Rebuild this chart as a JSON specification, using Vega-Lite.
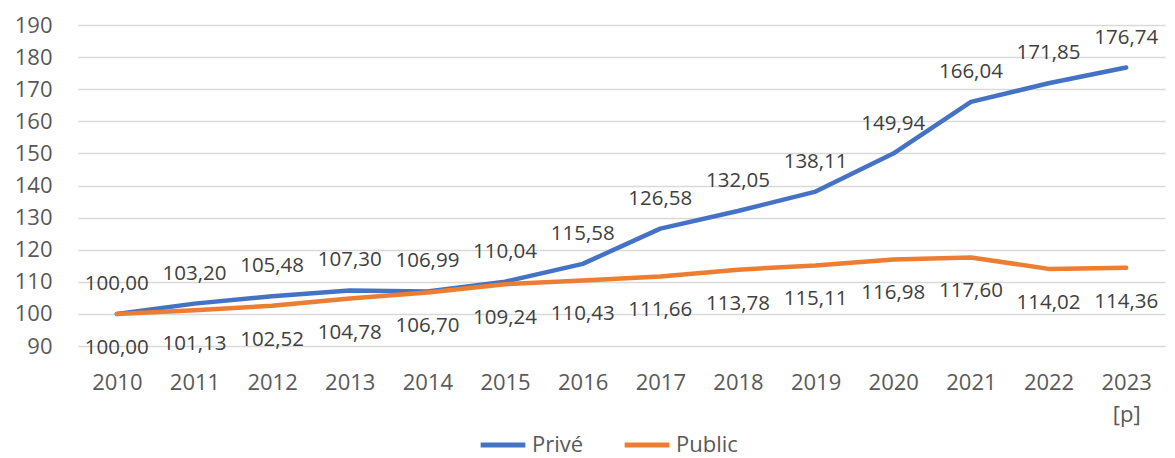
{
  "$schema": "https://vega.github.io/schema/vega-lite/v6.json",
  "width": 1087,
  "height": 321,
  "autosize": {"type": "none"},
  "padding": {"left": 78, "top": 25, "right": 10, "bottom": 112},
  "background": "white",
  "config": {
    "locale": {"number": {"decimal": ",", "thousands": " ", "grouping": [3], "currency": ["", " €"]}},
    "view": {"stroke": null},
    "font": "Open Sans"
  },
  "data": {
    "values": [
      {"year": "2010", "series": "Privé", "value": 100.00},
      {"year": "2011", "series": "Privé", "value": 103.20},
      {"year": "2012", "series": "Privé", "value": 105.48},
      {"year": "2013", "series": "Privé", "value": 107.30},
      {"year": "2014", "series": "Privé", "value": 106.99},
      {"year": "2015", "series": "Privé", "value": 110.04},
      {"year": "2016", "series": "Privé", "value": 115.58},
      {"year": "2017", "series": "Privé", "value": 126.58},
      {"year": "2018", "series": "Privé", "value": 132.05},
      {"year": "2019", "series": "Privé", "value": 138.11},
      {"year": "2020", "series": "Privé", "value": 149.94},
      {"year": "2021", "series": "Privé", "value": 166.04},
      {"year": "2022", "series": "Privé", "value": 171.85},
      {"year": "2023", "series": "Privé", "value": 176.74},
      {"year": "2010", "series": "Public", "value": 100.00},
      {"year": "2011", "series": "Public", "value": 101.13},
      {"year": "2012", "series": "Public", "value": 102.52},
      {"year": "2013", "series": "Public", "value": 104.78},
      {"year": "2014", "series": "Public", "value": 106.70},
      {"year": "2015", "series": "Public", "value": 109.24},
      {"year": "2016", "series": "Public", "value": 110.43},
      {"year": "2017", "series": "Public", "value": 111.66},
      {"year": "2018", "series": "Public", "value": 113.78},
      {"year": "2019", "series": "Public", "value": 115.11},
      {"year": "2020", "series": "Public", "value": 116.98},
      {"year": "2021", "series": "Public", "value": 117.60},
      {"year": "2022", "series": "Public", "value": 114.02},
      {"year": "2023", "series": "Public", "value": 114.36}
    ]
  },
  "encoding": {
    "x": {
      "field": "year", "type": "ordinal", "title": null,
      "scale": {"type": "point", "padding": 0.5},
      "axis": {
        "domain": true, "domainColor": "#d9d9d9", "ticks": false, "grid": false,
        "labelAngle": 0, "labelFontSize": 22, "labelColor": "#595959",
        "labelPadding": 26, "labelLineHeight": 32,
        "labelExpr": "datum.value == '2023' ? ['2023', '[p]'] : datum.value"
      }
    },
    "y": {
      "field": "value", "type": "quantitative", "title": null,
      "scale": {"domain": [90, 190], "nice": false, "zero": false},
      "axis": {
        "values": [90, 100, 110, 120, 130, 140, 150, 160, 170, 180, 190],
        "domain": false, "ticks": false, "grid": true, "gridColor": "#d9d9d9", "gridWidth": 1.5,
        "labelFontSize": 22, "labelColor": "#595959", "labelPadding": 26
      }
    },
    "color": {
      "field": "series", "type": "nominal", "title": null,
      "scale": {"domain": ["Privé", "Public"], "range": ["#4472C4", "#ED7D31"]},
      "legend": {
        "orient": "none", "legendX": 400, "legendY": 395, "direction": "horizontal", "symbolType": "stroke",
        "symbolStrokeWidth": 5, "symbolSize": 2000, "labelFontSize": 22, "labelColor": "#595959",
        "columnPadding": 30, "labelOffset": 4
      }
    }
  },
  "layer": [
    {"mark": {"type": "line", "strokeWidth": 4.5, "strokeCap": "round", "strokeJoin": "round"}},
    {
      "transform": [{"filter": "datum.series == 'Privé'"}],
      "mark": {"type": "text", "dy": -30, "fontSize": 20.5, "color": "#404040"},
      "encoding": {"text": {"field": "value", "type": "quantitative", "format": ".2f"}, "color": {"value": "#404040"}}
    },
    {
      "transform": [{"filter": "datum.series == 'Public'"}],
      "mark": {"type": "text", "dy": 34, "fontSize": 20.5, "color": "#404040"},
      "encoding": {"text": {"field": "value", "type": "quantitative", "format": ".2f"}, "color": {"value": "#404040"}}
    }
  ]
}
